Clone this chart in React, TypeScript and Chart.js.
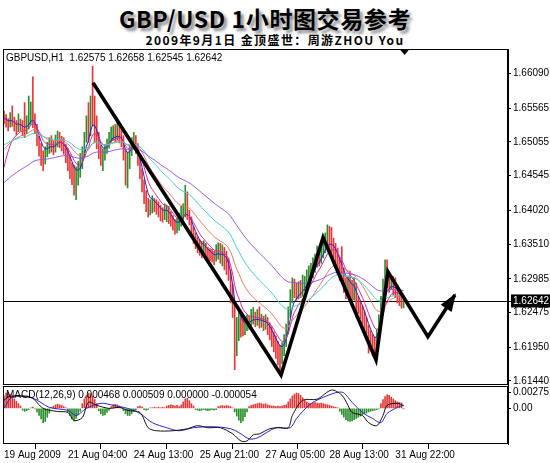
import React, { useEffect, useRef } from "react";
import { Chart, registerables } from "chart.js";

Chart.register(...registerables);

// ---- GBP/USD hourly bars (bar index 0 = 19 Aug 2009) ----
const firstOpen = 1.6545;

const closes = [
  1.6542, 1.6536, 1.6532, 1.6539, 1.6536, 1.6531, 1.6527, 1.6533, 1.6530, 1.6526,
  1.6524, 1.6531, 1.6536, 1.6548, 1.6542, 1.6527, 1.6509, 1.6494, 1.6488, 1.6482,
  1.6490, 1.6494, 1.6503, 1.6500, 1.6497, 1.6504, 1.6511, 1.6509, 1.6503, 1.6497,
  1.6488, 1.6479, 1.6468, 1.6461, 1.6450, 1.6455, 1.6462, 1.6471, 1.6489, 1.6509,
  1.6527, 1.6522, 1.6553, 1.6548, 1.6530, 1.6509, 1.6494, 1.6479, 1.6486, 1.6494,
  1.6503, 1.6512, 1.6516, 1.6521, 1.6514, 1.6518, 1.6512, 1.6509, 1.6488, 1.6471,
  1.6482, 1.6494, 1.6503, 1.6509, 1.6497, 1.6479, 1.6458, 1.6441, 1.6425, 1.6411,
  1.6404, 1.6408, 1.6415, 1.6411, 1.6406, 1.6403, 1.6398, 1.6396, 1.6401, 1.6403,
  1.6395, 1.6388, 1.6381, 1.6376, 1.6380, 1.6385, 1.6394, 1.6400, 1.6405, 1.6395,
  1.6388, 1.6373, 1.6361, 1.6355, 1.6350, 1.6345, 1.6342, 1.6347, 1.6339, 1.6337,
  1.6335, 1.6332, 1.6330, 1.6334, 1.6341, 1.6331, 1.6338, 1.6329, 1.6324, 1.6306,
  1.6282, 1.6252, 1.6220, 1.6231, 1.6238, 1.6226, 1.6221, 1.6229, 1.6234, 1.6231,
  1.6238, 1.6241, 1.6236, 1.6239, 1.6234, 1.6236, 1.6230, 1.6233, 1.6226, 1.6218,
  1.6210, 1.6203, 1.6195, 1.6190, 1.6186, 1.6194, 1.6205, 1.6222, 1.6248, 1.6272,
  1.6290, 1.6282, 1.6276, 1.6284, 1.6279, 1.6288, 1.6292, 1.6300, 1.6306, 1.6312,
  1.6318, 1.6326, 1.6333, 1.6329, 1.6340, 1.6348, 1.6355, 1.6362, 1.6356, 1.6350,
  1.6344, 1.6334, 1.6322, 1.6312, 1.6306, 1.6292, 1.6283, 1.6292, 1.6287, 1.6280,
  1.6286, 1.6262, 1.6259, 1.6251, 1.6244, 1.6232, 1.6221, 1.6212, 1.6206, 1.6201,
  1.6198, 1.6214, 1.6236, 1.6262, 1.6289, 1.6305, 1.6298, 1.6290, 1.6296, 1.6285,
  1.6282, 1.6276, 1.6268, 1.62575, 1.62642,
];

const highs = [
  1.6552, 1.6547, 1.6541, 1.6550, 1.6560, 1.6543, 1.6538, 1.6548, 1.6540, 1.6538,
  1.6565, 1.6545, 1.6575, 1.6566, 1.6604, 1.6548, 1.6532, 1.6514, 1.6503, 1.6492,
  1.6498, 1.6505, 1.6512, 1.6515, 1.6507, 1.6516, 1.6522, 1.6520, 1.6514, 1.6512,
  1.6502, 1.6496, 1.6486, 1.6474, 1.6470, 1.6468, 1.6476, 1.6488, 1.6498, 1.6520,
  1.6545, 1.6565, 1.6575, 1.6620, 1.6575, 1.6545, 1.6520, 1.6500, 1.6495, 1.6502,
  1.6510, 1.6520, 1.6528, 1.6530, 1.6532, 1.6542, 1.6530, 1.6525, 1.6515, 1.6495,
  1.6490, 1.6500, 1.6512, 1.6520, 1.6515, 1.6503, 1.6485, 1.6465, 1.6448, 1.6432,
  1.6420, 1.6418, 1.6424, 1.6420, 1.6418, 1.6415, 1.6410, 1.6406, 1.6412, 1.6410,
  1.6408, 1.6400, 1.6394, 1.6388, 1.6390, 1.6398, 1.6408, 1.6412, 1.6440, 1.6430,
  1.6402, 1.6392, 1.6378, 1.6368, 1.6362, 1.6358, 1.6355, 1.6356, 1.6352, 1.6346,
  1.6344, 1.6343, 1.6340, 1.6350, 1.6353, 1.6352, 1.6350, 1.6346, 1.6340, 1.6330,
  1.6312, 1.6290, 1.6260, 1.6240, 1.6250, 1.6246, 1.6238, 1.6240, 1.6244, 1.6242,
  1.6252, 1.6255, 1.6248, 1.6252, 1.6256, 1.6245, 1.6242, 1.6244, 1.6240, 1.6232,
  1.6226, 1.6218, 1.6212, 1.6204, 1.6198, 1.6202, 1.6214, 1.6230, 1.6256, 1.6282,
  1.6300, 1.6298, 1.6292, 1.6294, 1.6296, 1.6304, 1.6302, 1.6312, 1.6318, 1.6322,
  1.6330, 1.6336, 1.6348, 1.6345, 1.6352, 1.6360, 1.6368, 1.6380, 1.6378, 1.6376,
  1.6360, 1.6352, 1.6345, 1.6330, 1.6347, 1.6314, 1.6300, 1.6302, 1.6310, 1.6296,
  1.6300, 1.6292, 1.6272, 1.6266, 1.6258, 1.6250, 1.6240, 1.6228, 1.6220, 1.6214,
  1.6210, 1.6222, 1.6244, 1.6272, 1.6298, 1.6327, 1.6327, 1.6306, 1.6304, 1.6302,
  1.6300, 1.6288, 1.6282, 1.6273, 1.62658,
];

const lows = [
  1.6533, 1.6528, 1.6522, 1.6528, 1.6529, 1.6522, 1.6516, 1.6521, 1.6522, 1.6515,
  1.6512, 1.6518, 1.6525, 1.6532, 1.6527, 1.6518, 1.6500, 1.6484, 1.6470, 1.6462,
  1.6472, 1.6483, 1.6488, 1.6490, 1.6486, 1.6490, 1.6498, 1.6497, 1.6492, 1.6487,
  1.6474, 1.6462, 1.6450, 1.6441, 1.6425, 1.6418, 1.6440, 1.6452, 1.6465, 1.6482,
  1.6505, 1.6505, 1.6515, 1.6530, 1.6505, 1.6495, 1.6480, 1.6470, 1.6462, 1.6478,
  1.6488, 1.6496, 1.6505, 1.6508, 1.6506, 1.6508, 1.6504, 1.6498, 1.6478, 1.6440,
  1.6436, 1.6465, 1.6485, 1.6495, 1.6488, 1.6470, 1.6450, 1.6430, 1.6412, 1.6400,
  1.6392, 1.6395, 1.6398, 1.6400, 1.6396, 1.6392, 1.6386, 1.6384, 1.6388, 1.6385,
  1.6382, 1.6378, 1.6372, 1.6366, 1.6368, 1.6372, 1.6378, 1.6385, 1.6392, 1.6388,
  1.6380, 1.6364, 1.6352, 1.6344, 1.6338, 1.6334, 1.6330, 1.6335, 1.6330, 1.6328,
  1.6326, 1.6324, 1.6320, 1.6325, 1.6328, 1.6322, 1.6318, 1.6312, 1.6305, 1.6296,
  1.6262, 1.6240, 1.6161, 1.6182, 1.6205, 1.6210, 1.6212, 1.6214, 1.6220, 1.6222,
  1.6224, 1.6230, 1.6226, 1.6228, 1.6224, 1.6225, 1.6220, 1.6222, 1.6214, 1.6206,
  1.6196, 1.6188, 1.6178, 1.6168, 1.6161, 1.6170, 1.6182, 1.6196, 1.6215, 1.6240,
  1.6262, 1.6270, 1.6266, 1.6268, 1.6270, 1.6272, 1.6280, 1.6285, 1.6292, 1.6296,
  1.6300, 1.6308, 1.6316, 1.6318, 1.6322, 1.6330, 1.6338, 1.6345, 1.6342, 1.6335,
  1.6330, 1.6320, 1.6306, 1.6296, 1.6292, 1.6278, 1.6268, 1.6275, 1.6270, 1.6262,
  1.6266, 1.6240, 1.6246, 1.6238, 1.6230, 1.6218, 1.6205, 1.6186, 1.6190, 1.6182,
  1.6179, 1.6188, 1.6205, 1.6228, 1.6252, 1.6282, 1.6285, 1.6278, 1.6282, 1.6274,
  1.6270, 1.6262, 1.6258, 1.6254, 1.62545,
];

// Moving averages: EMA periods and their values at the first visible bar
const maPeriods = [65, 38, 21, 9, 5];
const maStart = [1.6444, 1.6501, 1.6494, 1.6467, 1.6542];

// Hand-drawn wave path (bar index, price)
const waveIdx = [43.2, 134.5, 154.9, 180.6, 186.4, 205.8, 218.9];
const wavePrice = [1.6595, 1.6153, 1.6361, 1.6176, 1.6309, 1.6211, 1.6274];

// Price axis labels
const priceTicks = [1.6609, 1.65565, 1.65055, 1.64545, 1.6402, 1.6351, 1.62985, 1.62642, 1.62475, 1.6195, 1.6144];

// Time axis
const timeTickIdx = [0, 31, 63, 95, 127, 158, 190];
const timeTickLabels = ["19 Aug 2009", "21 Aug 04:00", "24 Aug 13:00", "25 Aug 21:00", "27 Aug 05:00", "28 Aug 13:00", "31 Aug 22:00"];

// MACD(12,26,9)
const macdHist = [
  0.0021, 0.0026, 0.0027, 0.0024, 0.0020, 0.0016, 0.0012, 0.0008, 0.0004,
  -0.0003, -0.0005, -0.0004,
  -0.0002, 0.0001, 0.0002, -0.0001,
  -0.0006, -0.0012, -0.0018, -0.0024, -0.0022, -0.0015, -0.0008,
  0.0002, 0.0004, 0.0006, 0.0007, 0.0006, 0.0005, 0.0003, 0.0001,
  -0.0006, -0.0012, -0.0018, -0.0021, -0.0017, -0.0011, -0.0005,
  0.0008, 0.0016, 0.0022, 0.0026, 0.0025, 0.0021, 0.0015, 0.0008,
  -0.0004, -0.0009, -0.0012, -0.0011, -0.0007, -0.0003,
  0.0003, 0.0006, 0.0007, 0.0006, 0.0004, 0.0002,
  -0.0004, -0.0009, -0.0012, -0.0012, -0.0009, -0.0005, -0.0002,
  0.0003, 0.0004, 0.0002, -0.0002, -0.0003, -0.0002, 0.0001,
  0.0001, 0.0002, 0.0001, 0.0002, 0.0001, 0.0002, 0.0001,
  0.0004, 0.0005, 0.0006, 0.0005, 0.0004, 0.0005, 0.0003,
  0.0006, 0.0011, 0.0016, 0.0017, 0.0013, 0.0008, 0.0004,
  -0.0002, -0.0003, -0.0004, -0.0003, -0.0002, -0.0003, -0.0004, -0.0003, -0.0002, -0.0003, -0.0002,
  0.0003, 0.0004, 0.0005, 0.0004, 0.0005, 0.0004, 0.0003, 0.0001,
  -0.0006, -0.0013, -0.0020, -0.0024, -0.0021, -0.0014, -0.0006,
  0.0003, 0.0005, 0.0006, 0.0007, 0.0008, 0.0009, 0.0008, 0.0007, 0.0008, 0.0006, 0.0005, 0.0004,
  0.0004, 0.0003, 0.0004, 0.0003, 0.0004, 0.0005,
  0.0006, 0.0011, 0.0016, 0.0021, 0.0024, 0.0026, 0.0025, 0.0022, 0.0018, 0.0014, 0.0011, 0.0009, 0.0008,
  0.0009, 0.0010, 0.0009, 0.0008, 0.0009, 0.0008, 0.0007, 0.0006, 0.0005, 0.0004, 0.0003, 0.0002, 0.0001,
  -0.0005, -0.0010, -0.0015, -0.0019, -0.0021, -0.0022, -0.0021, -0.0019, -0.0017, -0.0015,
  -0.0013, -0.0011, -0.0009, -0.0008, -0.0006, -0.0005, -0.0004, -0.0003, -0.0002, -0.0001,
  0.0008, 0.0015, 0.0020, 0.0023, 0.0022, 0.0019, 0.0016, 0.0013, 0.0011, 0.0010, 0.0009, -0.000054,
];

const macdMainIdx = [0, 3, 13, 19, 26, 31, 34, 38, 41, 45, 51, 56, 60, 66, 70, 74, 82, 89, 94, 99, 105, 111, 115, 118, 121, 124, 129, 133, 138, 140, 145, 152, 159, 164, 167, 169, 174, 177, 181, 184, 186, 191, 194];
const macdMain = [0.00138, 0.00206, 0.00189, 0, -0.00052, -0.00069, -0.00206, -0.00155, 0.00103, 0.00052, 0, 0.00017, -0.00034, -0.00069, -0.00327, -0.00378, -0.00378, -0.00344, -0.00292, -0.00327, -0.00327, -0.0043, -0.0055, -0.0055, -0.00447, -0.0043, -0.00344, -0.00327, -0.00327, -0.0012, 0.00138, 0.00155, 0.0031, 0.00224, 0.00052, -0.00069, -0.0012, -0.00241, -0.00292, -0.0012, 0.00052, 0.00086, 0.000468];

const macdSignalIdx = [0, 4, 14, 22, 31, 35, 40, 47, 53, 60, 66, 72, 79, 85, 92, 101, 110, 115, 119, 123, 132, 139, 142, 148, 154, 164, 169, 174, 179, 183, 186, 191, 194];
const macdSignal = [0, 0.00189, 0.00172, 0.00017, -0.00034, -0.0012, 0, 0.00086, 0.00052, 0, -0.00086, -0.00241, -0.00327, -0.00378, -0.00327, -0.0031, -0.00344, -0.0043, -0.00516, -0.00499, -0.00327, -0.00327, -0.00172, 0.00052, 0.00172, 0.00275, 0.00103, -0.00069, -0.00172, -0.00241, -0.00086, 0.00017, 0.000509];

const macdTicks = [0.002752, 0];

// ---------------------------------------------------------------

const FONT = '"Liberation Sans", Arial, sans-serif';
const X_MIN = -0.5;
const X_MAX = 244.7;
const AXIS_W = 42;

function ema(src: number[], period: number, start: number): number[] {
  const k = 2 / (period + 1);
  let v = start;
  return src.map((c, i) => {
    if (i > 0) v = v + k * (c - v);
    return v;
  });
}

const opens = closes.map((_, i) => (i === 0 ? firstOpen : closes[i - 1]));
const lastClose = closes[closes.length - 1];

export default function App() {
  const mainRef = useRef<HTMLCanvasElement>(null);
  const macdRef = useRef<HTMLCanvasElement>(null);

  useEffect(() => {
    document.body.style.margin = "0";

    const frame = {
      id: "frame",
      afterDraw(chart: any) {
        const { ctx, chartArea: a } = chart;
        ctx.save();
        ctx.strokeStyle = "#000";
        ctx.lineWidth = 1;
        ctx.strokeRect(Math.round(a.left) + 0.5, Math.round(a.top) + 0.5, Math.round(a.right - a.left) - 1, Math.round(a.bottom - a.top) - 1);
        ctx.restore();
      },
    };

    const priceLine = {
      id: "priceLine",
      beforeDatasetsDraw(chart: any) {
        const { ctx, chartArea: a, scales } = chart;
        const y = Math.round(scales.y.getPixelForValue(lastClose)) + 0.5;
        ctx.save();
        ctx.strokeStyle = "#000";
        ctx.lineWidth = 1;
        ctx.beginPath();
        ctx.moveTo(a.left, y);
        ctx.lineTo(a.right, y);
        ctx.stroke();
        ctx.restore();
      },
    };

    const waveArrow = {
      id: "waveArrow",
      afterDatasetsDraw(chart: any) {
        const idx = chart.data.datasets.findIndex((d: any) => d.label === "wave");
        const pts = chart.getDatasetMeta(idx).data;
        const a = pts[pts.length - 2];
        const b = pts[pts.length - 1];
        const ang = Math.atan2(b.y - a.y, b.x - a.x);
        const L = 16;
        const W = 13;
        const bx = b.x - L * Math.cos(ang);
        const by = b.y - L * Math.sin(ang);
        const { ctx } = chart;
        ctx.save();
        ctx.fillStyle = "#000";
        ctx.beginPath();
        ctx.moveTo(b.x + 2 * Math.cos(ang), b.y + 2 * Math.sin(ang));
        ctx.lineTo(bx + (W / 2) * Math.sin(ang), by - (W / 2) * Math.cos(ang));
        ctx.lineTo(bx - (W / 2) * Math.sin(ang), by + (W / 2) * Math.cos(ang));
        ctx.closePath();
        ctx.fill();
        ctx.restore();
      },
    };

    const mainLabels = {
      id: "mainLabels",
      afterDraw(chart: any) {
        const { ctx, chartArea: a, scales } = chart;
        ctx.save();
        ctx.fillStyle = "#000";
        ctx.font = `10px ${FONT}`;
        ctx.textBaseline = "middle";
        const n = closes.length - 1;
        const txt = `GBPUSD,H1  ${opens[n].toFixed(5)} ${highs[n].toFixed(5)} ${lows[n].toFixed(5)} ${closes[n].toFixed(5)}`;
        ctx.fillText(txt, a.left + 3, a.top + 9);
        // chart shift marker
        const sx = scales.x.getPixelForValue(closes.length - 0.5);
        ctx.beginPath();
        ctx.moveTo(sx - 5, a.top);
        ctx.lineTo(sx + 5, a.top);
        ctx.lineTo(sx, a.top + 6);
        ctx.closePath();
        ctx.fill();
        ctx.restore();
      },
    };

    const maColors = ["#9b55e6", "#3fd3c6", "#f27562", "#e8288e", "#1f24d0"];
    const maData = maPeriods.map((p, k) => ema(closes, p, maStart[k]));

    const fixY = (s: any) => {
      s.width = AXIS_W;
      s.paddingTop = 0;
      s.paddingBottom = 0;
    };

    const main = new Chart(mainRef.current as HTMLCanvasElement, {
      type: "bar",
      data: {
        datasets: [
          {
            type: "line",
            label: "wave",
            data: waveIdx.map((x, i) => ({ x, y: wavePrice[i] })),
            borderColor: "#000",
            borderWidth: 3.6,
            pointRadius: 0,
            tension: 0,
            borderJoinStyle: "miter",
            order: 0,
          } as any,
          ...maData.map((vals, k) => ({
            type: "line",
            label: `ema${maPeriods[k]}`,
            data: vals.map((y, i) => ({ x: i, y })),
            borderColor: maColors[k],
            borderWidth: 1,
            pointRadius: 0,
            tension: 0,
            order: 1,
          })) as any,
          {
            type: "bar",
            label: "bars",
            data: closes.map((_, i) => ({ x: i, y: [lows[i], highs[i]] })),
            backgroundColor: closes.map((c, i) => (c >= opens[i] ? "#2e8e2e" : "#ee3535")),
            barThickness: 1,
            grouped: false,
            borderWidth: 0,
            order: 3,
          } as any,
        ],
      },
      options: {
        responsive: false,
        animation: false,
        events: [],
        layout: { padding: { left: 3, right: 0, top: 0, bottom: 2 }, autoPadding: false } as any,
        plugins: { legend: { display: false }, tooltip: { enabled: false } },
        scales: {
          x: { type: "linear", min: X_MIN, max: X_MAX, display: false, offset: false },
          y: {
            type: "linear",
            position: "right",
            min: 1.61378,
            max: 1.66461,
            afterBuildTicks: (s: any) => {
              s.ticks = priceTicks.map((value) => ({ value }));
            },
            afterFit: fixY,
            border: { display: true, color: "#000" },
            grid: { drawOnChartArea: false, drawTicks: true, tickLength: 3, color: "#000" },
            ticks: {
              autoSkip: false,
              padding: 2,
              font: { family: FONT, size: 10 },
              color: (c: any) => (c.tick && Math.abs(c.tick.value - lastClose) < 1e-7 ? "#fff" : "#000"),
              showLabelBackdrop: true,
              backdropColor: (c: any) => (c.tick && Math.abs(c.tick.value - lastClose) < 1e-7 ? "#000" : "rgba(0,0,0,0)"),
              backdropPadding: { top: 1, bottom: 0, left: 2, right: 5 },
              callback: (v: any) => Number(v).toFixed(5),
            },
          } as any,
        },
      },
      plugins: [frame, priceLine, waveArrow, mainLabels],
    });

    const macdLabel = {
      id: "macdLabel",
      afterDraw(chart: any) {
        const { ctx, chartArea: a } = chart;
        const h = macdHist[macdHist.length - 1];
        const txt = `MACD(12,26,9) ${macdMain[macdMain.length - 1].toFixed(6)} ${macdSignal[macdSignal.length - 1].toFixed(6)} ${Math.max(h, 0).toFixed(6)} ${Math.min(h, 0).toFixed(6)}`;
        ctx.save();
        ctx.fillStyle = "#000";
        ctx.font = `10px ${FONT}`;
        ctx.textBaseline = "middle";
        ctx.fillText(txt, a.left + 3, a.top + 9);
        ctx.restore();
      },
    };

    const macd = new Chart(macdRef.current as HTMLCanvasElement, {
      type: "bar",
      data: {
        datasets: [
          {
            type: "line",
            label: "main",
            data: macdMainIdx.map((x, i) => ({ x, y: macdMain[i] })),
            borderColor: "#111",
            borderWidth: 1,
            pointRadius: 0,
            tension: 0.3,
            order: 0,
          } as any,
          {
            type: "line",
            label: "signal",
            data: macdSignalIdx.map((x, i) => ({ x, y: macdSignal[i] })),
            borderColor: "#2626c8",
            borderWidth: 1,
            pointRadius: 0,
            tension: 0.3,
            order: 1,
          } as any,
          {
            type: "bar",
            label: "hist",
            data: macdHist.map((y, i) => ({ x: i, y })),
            backgroundColor: macdHist.map((v) => (v >= 0 ? "#e23838" : "#2b8f2b")),
            barThickness: 1,
            grouped: false,
            borderWidth: 0,
            order: 2,
          } as any,
        ],
      },
      options: {
        responsive: false,
        animation: false,
        events: [],
        layout: { padding: { left: 3, right: 0, top: 1, bottom: 0 }, autoPadding: false } as any,
        plugins: { legend: { display: false }, tooltip: { enabled: false } },
        scales: {
          x: {
            type: "linear",
            min: X_MIN,
            max: X_MAX,
            offset: false,
            afterBuildTicks: (s: any) => {
              s.ticks = timeTickIdx.map((value) => ({ value }));
            },
            afterFit: (s: any) => {
              s.height = 19;
              s.paddingLeft = 0;
              s.paddingRight = 0;
            },
            border: { display: false },
            grid: { drawOnChartArea: false, drawTicks: true, tickLength: 5, color: "#000" },
            ticks: {
              autoSkip: false,
              maxRotation: 0,
              minRotation: 0,
              align: "start",
              padding: 0,
              font: { family: FONT, size: 10 },
              color: "#000",
              callback: (v: any) => timeTickLabels[timeTickIdx.indexOf(Number(v))] ?? "",
            },
          } as any,
          y: {
            type: "linear",
            position: "right",
            min: -0.00602,
            max: 0.003784,
            afterBuildTicks: (s: any) => {
              s.ticks = macdTicks.map((value) => ({ value }));
            },
            afterFit: fixY,
            border: { display: true, color: "#000" },
            grid: { drawOnChartArea: false, drawTicks: true, tickLength: 3, color: "#000" },
            ticks: {
              autoSkip: false,
              padding: 2,
              font: { family: FONT, size: 10 },
              color: "#000",
              callback: (v: any) => (Number(v) === 0 ? "0.00" : Number(v).toFixed(6)),
            },
          } as any,
        },
      },
      plugins: [frame, macdLabel],
    });

    return () => {
      main.destroy();
      macd.destroy();
    };
  }, []);

  return (
    <div style={{ position: "absolute", left: 0, top: 0, width: 550, height: 463, background: "#fff", overflow: "hidden" }}>
      <div
        style={{
          position: "absolute",
          left: 0,
          top: 3,
          width: 530,
          textAlign: "center",
          font: 'bold 23px "Noto Sans CJK SC", sans-serif',
          lineHeight: "30px",
          letterSpacing: "0.6px",
          color: "#000",
          textShadow: "3px 3px 3px #8a8a8a",
          whiteSpace: "nowrap",
        }}
      >
        GBP/USD 1小时图交易参考
      </div>
      <div
        style={{
          position: "absolute",
          left: 0,
          top: 32,
          width: 550,
          textAlign: "center",
          font: 'bold 12px "Noto Sans CJK SC", sans-serif',
          lineHeight: "16px",
          letterSpacing: "1.4px",
          color: "#000",
          whiteSpace: "nowrap",
        }}
      >
        2009年9月1日 金顶盛世：周游ZHOU You
      </div>
      <canvas ref={mainRef} width={550} height={338} style={{ position: "absolute", left: 0, top: 49, display: "block" }} />
      <canvas ref={macdRef} width={550} height={78} style={{ position: "absolute", left: 0, top: 385, display: "block" }} />
    </div>
  );
}
